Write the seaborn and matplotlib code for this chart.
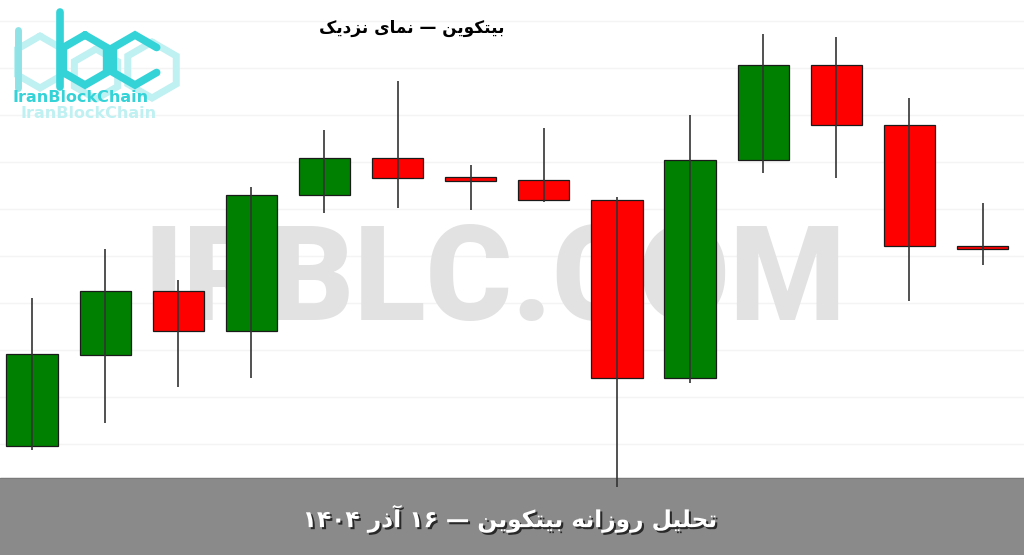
import re
import numpy as np
import pandas as pd
import matplotlib
matplotlib.use("Agg")
import matplotlib.pyplot as plt
import matplotlib.patheffects as pe
import seaborn as sns

# candle data (14 daily candles)
days = list(range(14))
opens  = [89840, 90750, 91395, 90995, 92350, 92725, 92535, 92500, 92300, 90520, 92700, 93650, 93050, 91845]
closes = [90760, 91395, 90995, 92355, 92725, 92525, 92495, 92300, 90520, 92700, 93650, 93050, 91845, 91810]
highs  = [91320, 91810, 91500, 92430, 93000, 93495, 92650, 93020, 92330, 93150, 93960, 93935, 93325, 92275]
lows   = [89800, 90070, 90435, 90520, 92175, 92220, 92200, 92285, 89430, 90470, 92570, 92525, 91290, 91655]
grid_levels = [94090, 93620, 93150, 92680, 92210, 91740, 91270, 90800, 90330, 89860]

title_text = "بیتکوین — نمای نزدیک"
banner_text = "تحلیل روزانه بیتکوین — ۱۶ آذر ۱۴۰۴"
watermark = "IRBLC.COM"
brand = "IranBlockChain"

df = pd.DataFrame({"day": days, "open": opens, "close": closes, "high": highs, "low": lows})
df["up"] = df["close"] >= df["open"]

# --- tiny persian shaper (matplotlib has no complex text layout) ---
FORMS = {
    "ا": ("\uFE8D", "\uFE8E", None, None),
    "آ": ("\uFE81", "\uFE82", None, None),
    "ب": ("\uFE8F", "\uFE90", "\uFE91", "\uFE92"),
    "ت": ("\uFE95", "\uFE96", "\uFE97", "\uFE98"),
    "ح": ("\uFEA1", "\uFEA2", "\uFEA3", "\uFEA4"),
    "د": ("\uFEA9", "\uFEAA", None, None),
    "ذ": ("\uFEAB", "\uFEAC", None, None),
    "ر": ("\uFEAD", "\uFEAE", None, None),
    "ز": ("\uFEAF", "\uFEB0", None, None),
    "ل": ("\uFEDD", "\uFEDE", "\uFEDF", "\uFEE0"),
    "م": ("\uFEE1", "\uFEE2", "\uFEE3", "\uFEE4"),
    "ن": ("\uFEE5", "\uFEE6", "\uFEE7", "\uFEE8"),
    "ه": ("\uFEE9", "\uFEEA", "\uFEEB", "\uFEEC"),
    "و": ("\uFEED", "\uFEEE", None, None),
    "ی": ("\uFBFC", "\uFBFD", "\uFBFE", "\uFBFF"),
    "ک": ("\uFB8E", "\uFB8F", "\uFB90", "\uFB91"),
}


def fa(s):
    out = []
    for i, ch in enumerate(s):
        if ch not in FORMS:
            out.append(ch)
            continue
        prev = s[i - 1] if i > 0 else ""
        nxt = s[i + 1] if i + 1 < len(s) else ""
        jp = prev in FORMS and FORMS[prev][2] is not None
        jn = nxt in FORMS and FORMS[ch][2] is not None
        iso, fin, ini, med = FORMS[ch]
        out.append(med if jp and jn else fin if jp else ini if jn else iso)
    vis = "".join(out)[::-1]
    return re.sub(r"[۰-۹0-9]+", lambda m: m.group(0)[::-1], vis)


sns.set_theme(style="white")
plt.rcParams["font.family"] = ["DejaVu Sans"]

fig = plt.figure(figsize=(10.24, 5.55), dpi=100)
ax = fig.add_axes([0, 0, 1, 1])
ax.set_xlim(-0.4377, 13.567)
ax.set_ylim(88750, 94300)

for lvl in grid_levels:
    ax.axhline(lvl, color="#f4f4f4", lw=1, zorder=0)

# watermark
ax.text(0.483, 0.488, watermark, transform=ax.transAxes, ha="center", va="center",
        fontsize=95, fontweight=900, family=["Roboto", "DejaVu Sans"], color="#e2e2e2", zorder=0.5)

# bottom band
ax.axhspan(88750, 89520, color="#8a8a8a", zorder=1)
ax.axhline(89520, color="#7a7a7a", lw=0.8, zorder=1)

colors = np.where(df["up"], "#008000", "#ff0000")
body_lo = df[["open", "close"]].min(axis=1)
body_h = (df["close"] - df["open"]).abs()
ax.bar(df["day"], body_h, bottom=body_lo, width=0.7, color=colors,
       edgecolor="#1a1a1a", linewidth=0.9, zorder=2)
ax.vlines(df["day"], df["low"], df["high"], color="#333333", lw=1.2, zorder=3)

ax.set_xticks([])
ax.set_yticks([])
for s in ax.spines.values():
    s.set_visible(False)

# logo (pixel coordinates overlay)
lg = fig.add_axes([0, 0, 1, 1], zorder=5)
lg.set_xlim(0, 1024)
lg.set_ylim(555, 0)
lg.axis("off")
lg.patch.set_alpha(0)


def hexpts(cx, cy, r):
    ang = np.deg2rad([-90, -30, 30, 90, 150, 210, -90])
    return cx + r * np.cos(ang), cy + r * np.sin(ang)


pale = "#bff0f2"
cyan = "#33d3d8"
for cx, cy, r in [(40, 62, 26), (152, 70, 28), (96, 74, 25)]:
    hx, hy = hexpts(cx, cy, r)
    lg.plot(hx, hy, color=pale, lw=5, solid_joinstyle="miter")
lg.plot([18, 18], [30, 88], color="#8fe3e6", lw=5)
lg.plot([60, 60], [12, 87], color=cyan, lw=5.5)
hx, hy = hexpts(85, 60, 25)
lg.plot(hx, hy, color=cyan, lw=5.5, solid_joinstyle="miter")
hx, hy = hexpts(135, 60, 25)
lg.plot(hx[[1, 0, 5, 4, 3, 2]], hy[[1, 0, 5, 4, 3, 2]], color=cyan, lw=5.5, solid_joinstyle="miter")
lg.text(12, 97, brand, fontsize=11.5, fontweight="bold", color=cyan, va="center", ha="left")
lg.text(20, 113, brand, fontsize=11.5, fontweight="bold", color=pale, va="center", ha="left")

lg.text(412, 28, fa(title_text), fontsize=12.2, fontweight="bold", color="black",
        ha="center", va="center")
lg.text(510, 519, fa(banner_text), fontsize=16.8, fontweight="bold", color="white",
        ha="center", va="center",
        path_effects=[pe.SimplePatchShadow(offset=(1.5, -1.5), shadow_rgbFace="black", alpha=0.7),
                      pe.Normal()])

fig.savefig("out.png", dpi=100)
